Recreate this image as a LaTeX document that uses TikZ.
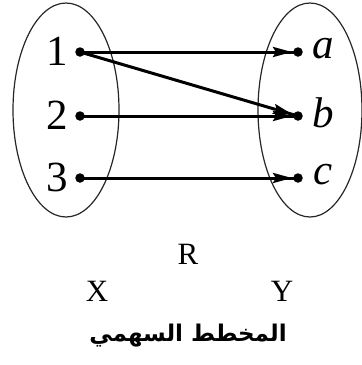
\documentclass[tikz,border=0pt]{standalone}
\usepackage{fontspec}
\setmainfont{Liberation Serif}
\newfontfamily\arabicfont[Script=Arabic]{DejaVu Sans}
\TeXXeTstate=1
\usetikzlibrary{arrows.meta,decorations.markings,shapes.geometric}
\tikzset{
  setel/.style={draw=black!85, line width=1.2pt},
  dot/.style={circle, fill=black, inner sep=0pt, minimum size=9.5pt},
  lbl/.style={font=\fontsize{43}{43}\selectfont, inner sep=0pt},
  conn/.style={line width=3pt, postaction={decorate}, decoration={markings,
     mark=at position -6pt with {\arrow{Stealth[length=19pt,width=10pt,inset=3pt]}}}},
  captxt/.style={font=\fontsize{31}{31}\selectfont, inner sep=0pt}
}
\begin{document}
\begin{tikzpicture}[x=1pt,y=-1pt]
\useasboundingbox (0,0) rectangle (362,365);
\node[setel, ellipse, minimum width=106pt, minimum height=214pt, inner sep=0pt] (X) at (66,110) {};
\node[setel, ellipse, minimum width=104pt, minimum height=214pt, inner sep=0pt] (Y) at (310,110) {};
\node[dot] (d1) at (80,52) {};
\node[dot] (d2) at (80,116) {};
\node[dot] (d3) at (80,178) {};
\node[dot] (da) at (298,52) {};
\node[dot] (db) at (298,116) {};
\node[dot] (dc) at (298,178) {};
\node[lbl] (n1) at (57,51) {1};
\node[lbl] (n2) at (57,115) {2};
\node[lbl] (n3) at (57,177) {3};
\node[lbl] (la) at (323,49) {\itshape a};
\node[lbl] (lb) at (323,113) {\itshape b};
\node[lbl] (lc) at (323,175) {\itshape c};
\draw[conn] (d1.center) -- (da.center);
\draw[conn] (d1.center) -- (db.center);
\draw[conn] (d2.center) -- (db.center);
\draw[conn] (d3.center) -- (dc.center);
\node[captxt] (R) at (188,254) {R};
\node[captxt] (Xl) at (97,291) {X};
\node[captxt] (Yl) at (282,291) {Y};
\node[inner sep=0pt, font=\fontsize{23}{23}\selectfont] (T) at (188,336) {\arabicfont\bfseries\beginR المخطط السهمي\endR};
\end{tikzpicture}
\end{document}
